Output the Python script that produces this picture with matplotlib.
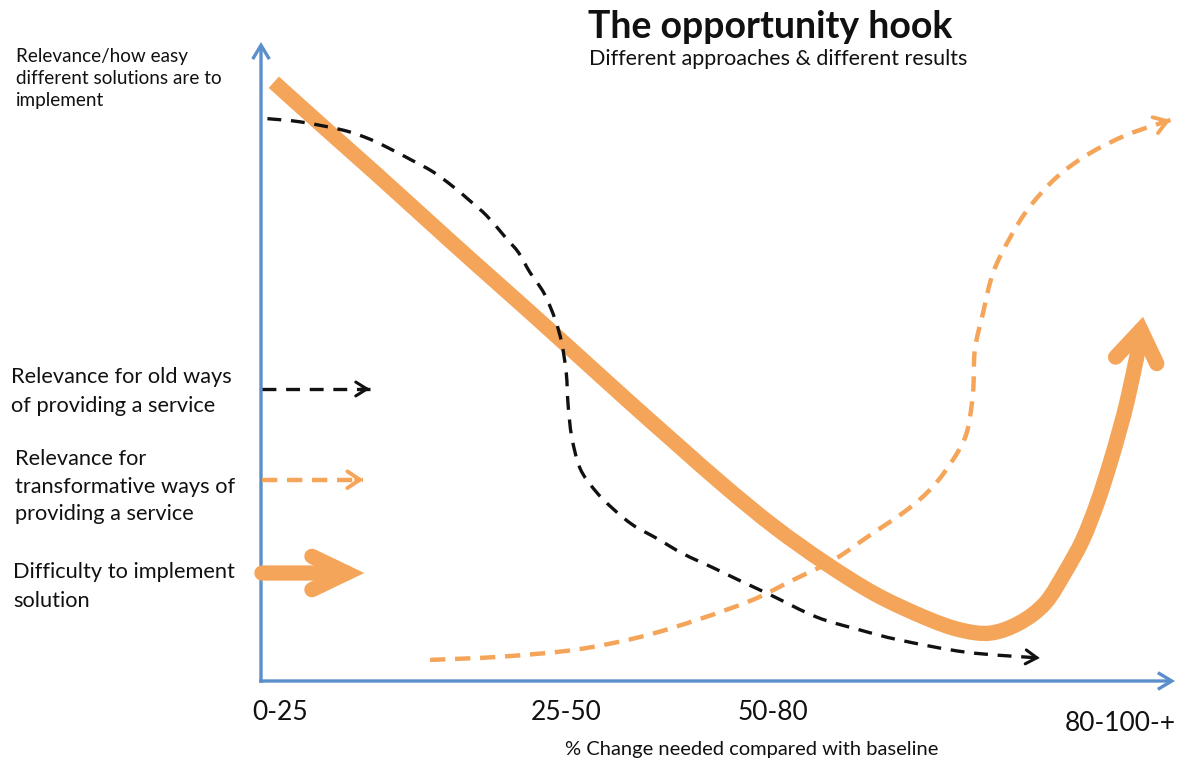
import numpy as np
import matplotlib
matplotlib.use("Agg")
import matplotlib.pyplot as plt
from matplotlib.patches import FancyArrowPatch, ArrowStyle, PathPatch
from matplotlib.path import Path

plt.rcParams["font.family"] = ["Lato", "DejaVu Sans"]
plt.rcParams["lines.scale_dashes"] = False

# ---- data -------------------------------------------------------------
x_categories = ["0-25", "25-50", "50-80", "80-100-+"]
x_category_pos = [2.1, 33.4, 56.0, 94.0]

# Relevance for old ways of providing a service (black dashed)
old_x = [0.7, 4.3, 9.0, 11.9, 14.1, 16.5, 18.8, 20.9, 22.9, 24.7, 26.7, 28.2,
         29.4, 31.0, 32.2, 32.9, 33.4, 33.6, 34.0, 34.9, 36.5, 38.4, 40.7, 43.2,
         46.2, 49.5, 52.4, 55.7, 60.8, 65.5, 69.9, 77.2, 85.2]
old_y = [88.0, 87.5, 86.2, 84.8, 83.3, 81.5, 79.7, 77.5, 75.1, 72.8, 69.5, 67.0,
         64.0, 60.6, 56.5, 52.9, 48.2, 43.2, 38.2, 33.3, 29.9, 27.1, 24.4, 22.4,
         19.9, 17.7, 15.7, 13.5, 10.0, 8.0, 6.4, 4.5, 3.6]

# Relevance for transformative ways of providing a service (orange dashed)
new_x = [18.5, 26.2, 34.4, 41.5, 48.0, 53.8, 58.2, 62.6, 66.3, 70.7, 73.5, 75.7,
         77.2, 77.9, 78.1, 79.0, 80.1, 82.0, 84.1, 87.1, 90.7, 94.8, 99.5]
new_y = [3.3, 3.8, 4.9, 6.9, 9.7, 12.7, 15.8, 18.9, 22.5, 26.8, 30.4, 34.6,
         38.8, 45.1, 51.8, 57.6, 63.9, 69.5, 74.2, 78.9, 82.6, 85.5, 87.8]

# Difficulty to implement solution (thick orange)
diff_x = [1.4, 7.0, 12.5, 17.9, 23.4, 28.9, 34.4, 39.8, 45.3, 50.8, 56.2, 61.7,
          67.2, 72.7, 76.5, 79.8, 83.0, 85.8, 88.0, 89.9, 91.5, 92.9, 94.0, 94.8,
          95.8, 96.5]
diff_y = [93.7, 86.5, 79.5, 72.5, 65.4, 58.4, 51.3, 44.3, 37.3, 30.4, 24.1, 18.5,
          13.6, 9.9, 8.0, 7.5, 9.1, 12.2, 17.1, 22.1, 27.9, 34.1, 39.6, 44.0,
          50.6, 57.0]

legend_labels = [
    ["Relevance for old ways", "of providing a service"],
    ["Relevance for", "transformative ways of", "providing a service"],
    ["Difficulty to implement", "solution"],
]

# ---- styling ------------------------------------------------------------
W, H = 1181, 763
BLUE = "#5B8FCB"
ORANGE = "#F5A55A"
BLACK = "#111111"
TEXT = "#111111"

fig = plt.figure(figsize=(W / 100, H / 100), dpi=100)
fig.patch.set_facecolor("white")


def fx(px):
    return px / W


def fy(py):
    return 1 - py / H


ax = fig.add_axes([fx(261), fy(681), (1175 - 261) / W, (681 - 42) / H])
ax.set_xlim(0, 100)
ax.set_ylim(0, 100)
ax.axis("off")


def smooth_path(xs, ys):
    """Cubic Bezier path through the given points (Catmull-Rom tangents)."""
    p = np.column_stack([xs, ys]).astype(float)
    ext = np.vstack([p[0], p, p[-1]])
    verts = [p[0]]
    codes = [Path.MOVETO]
    for i in range(len(p) - 1):
        p0, p1, p2, p3 = ext[i], ext[i + 1], ext[i + 2], ext[i + 3]
        verts += [p1 + (p2 - p0) / 6.0, p2 - (p3 - p1) / 6.0, p2]
        codes += [Path.CURVE4] * 3
    return Path(verts, codes)


def curve(xs, ys, color, lw, ls="-", z=3, cap="butt"):
    patch = PathPatch(smooth_path(xs, ys), facecolor="none", edgecolor=color, lw=lw,
                      linestyle=ls, capstyle=cap, joinstyle="round", clip_on=False,
                      zorder=z, transform=ax.transData)
    ax.add_patch(patch)


def arrow(p0, p1, color, lw, hl, hw, cap="round", join="miter", z=3):
    a = FancyArrowPatch(p0, p1, arrowstyle=ArrowStyle("->", head_length=hl, head_width=hw),
                        mutation_scale=1, lw=lw, color=color, shrinkA=0, shrinkB=0,
                        capstyle=cap, joinstyle=join, clip_on=False, zorder=z,
                        transform=ax.transData)
    ax.add_patch(a)


def head_only(xs, ys, color, lw, hl, hw, z=3):
    # tiny solid stub at the very end so only the arrow head shows
    x1, y1 = xs[-1], ys[-1]
    x0, y0 = xs[-2], ys[-2]
    p0 = (x1 - 0.08 * (x1 - x0), y1 - 0.08 * (y1 - y0))
    arrow(p0, (x1, y1), color, lw, hl, hw, z=z)


# axes with arrow tips
arrow((0, -0.3), (0, 100), BLUE, 2.4, 10, 6, cap="butt", z=2)
arrow((-0.2, 0), (100, 0), BLUE, 2.4, 10, 6, cap="butt", z=2)

# transformative ways: orange dashed
curve(new_x, new_y, ORANGE, 3.2, ls=(0, (11, 7)), z=3)
head_only(new_x, new_y, ORANGE, 2.8, 9, 6, z=3)

# difficulty: thick orange with large open head
curve(diff_x[:-1], diff_y[:-1], ORANGE, 11, z=5)
arrow((diff_x[-2], diff_y[-2]), (diff_x[-1], diff_y[-1]), ORANGE, 11, 22, 15, z=5)

# old ways: black dashed, drawn above the orange band
curve(old_x, old_y, BLACK, 2.4, ls=(0, (10, 7)), z=6)
head_only(old_x, old_y, BLACK, 2.2, 8, 5, z=6)

# legend samples
ax.plot([0.1, 11.9], [45.7, 45.7], color=BLACK, lw=2.4, dashes=(10, 7),
        clip_on=False, zorder=4)
arrow((11.0, 45.7), (11.9, 45.7), BLACK, 2.2, 8, 5, z=4)
ax.plot([0.1, 11.2], [31.5, 31.5], color=ORANGE, lw=3.2, dashes=(11, 7),
        clip_on=False, zorder=3)
arrow((10.4, 31.5), (11.2, 31.5), ORANGE, 2.8, 9, 6, z=3)
arrow((0.1, 16.9), (11.3, 16.9), ORANGE, 11, 25, 12, cap="round", z=5)

# category labels under the horizontal axis
for lab, xp in zip(x_categories, x_category_pos):
    ypos = -6.6 if lab == x_categories[-1] else -5.0
    ax.text(xp, ypos, lab, ha="center", va="center", fontsize=19, color=TEXT,
            clip_on=False)

# titles and annotations
fig.text(fx(588), fy(38), "The opportunity hook", fontsize=27, fontweight="bold",
         va="baseline", ha="left", color=TEXT)
fig.text(fx(589), fy(65), "Different approaches & different results", fontsize=15.5,
         va="baseline", ha="left", color=TEXT)
fig.text(fx(752), fy(755), "% Change needed compared with baseline", fontsize=14.5,
         va="baseline", ha="center", color=TEXT)

for line, by in zip(["Relevance/how easy", "different solutions are to", "implement"],
                    [62, 84, 106]):
    fig.text(fx(16), fy(by), line, fontsize=13.6, va="baseline", ha="left", color=TEXT)

legend_baselines = [[383, 412], [465, 493, 520], [578, 607]]
legend_left = [11, 15, 13]
for lines, bys, lx in zip(legend_labels, legend_baselines, legend_left):
    for line, by in zip(lines, bys):
        fig.text(fx(lx), fy(by), line, fontsize=15.7, va="baseline", ha="left",
                 color=TEXT)

fig.savefig("out.png", dpi=100, facecolor="white")
